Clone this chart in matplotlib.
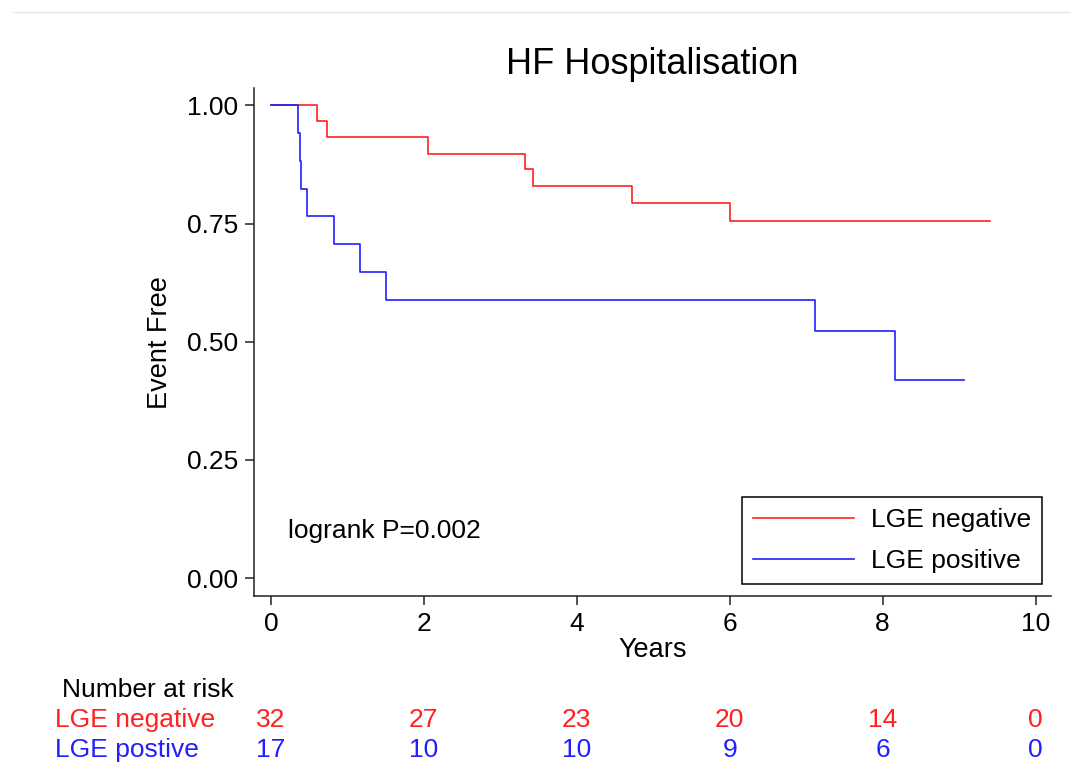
import matplotlib.pyplot as plt
from matplotlib.lines import Line2D

plt.rcParams['font.family'] = ['Liberation Sans', 'DejaVu Sans']

# Kaplan-Meier steps
neg_t = [0, 0.60, 0.74, 2.06, 3.32, 3.43, 4.72, 6.01, 9.40]
neg_s = [1.0, 0.966, 0.934, 0.898, 0.865, 0.829, 0.793, 0.755, 0.755]
pos_t = [0, 0.36, 0.38, 0.39, 0.47, 0.82, 1.16, 1.51, 7.11, 8.16, 9.06]
pos_s = [1.0, 0.941, 0.882, 0.824, 0.765, 0.706, 0.647, 0.588, 0.523, 0.418, 0.418]

risk_years = [0, 2, 4, 6, 8, 10]
risk_neg = [32, 27, 23, 20, 14, 0]
risk_pos = [17, 10, 10, 9, 6, 0]

fig = plt.figure(figsize=(10.71, 7.81), dpi=100)
ax = fig.add_axes([0.2372, 0.2369, 0.744, 0.650])

ax.step(neg_t, neg_s, where='post', color='#ff2020', lw=1.2, label='LGE negative')
ax.step(pos_t, pos_s, where='post', color='#2020ff', lw=1.2, label='LGE positive')

ax.set_xlim(-0.22, 10.2)
ax.set_ylim(-0.038, 1.036)
ax.set_xticks(risk_years)
ax.set_yticks([0, 0.25, 0.5, 0.75, 1.0])
ax.set_yticklabels(['%.2f' % v for v in [0, 0.25, 0.5, 0.75, 1.0]])
for s in ['top', 'right']:
    ax.spines[s].set_visible(False)
for s in ['left', 'bottom']:
    ax.spines[s].set_linewidth(1.1)
    ax.spines[s].set_color('#222222')
ax.tick_params(length=6.5, width=1.1, labelsize=19, pad=5, color='#222222')

ax.set_title('HF Hospitalisation', fontsize=26, pad=10)
ax.set_ylabel('Event Free', fontsize=19.5, labelpad=10)
ax.set_xlabel('Years', fontsize=19.5, labelpad=1)

ax.text(0.22, 0.10, 'logrank P=0.002', fontsize=19, va='center')

leg = ax.legend(loc='lower right', bbox_to_anchor=(0.989, 0.0236), borderaxespad=0,
                fontsize=19, frameon=True, fancybox=False, edgecolor='black',
                framealpha=1, handlelength=3.8, handletextpad=0.65,
                borderpad=0.42, labelspacing=0.65)
leg.get_frame().set_linewidth(1.1)

# number at risk table
tr = ax.get_xaxis_transform()
fig.text(62 / 1071, 1 - 690 / 781, 'Number at risk', fontsize=19, va='center', ha='left')
fig.text(55 / 1071, 1 - 720 / 781, 'LGE negative', fontsize=19, va='center', ha='left', color='#ff2020')
fig.text(55 / 1071, 1 - 750 / 781, 'LGE postive', fontsize=19, va='center', ha='left', color='#2020ff')
y_neg = (1 - 720 / 781 - 0.2369) / 0.650
y_pos = (1 - 750 / 781 - 0.2369) / 0.650
for yr, n1, n2 in zip(risk_years, risk_neg, risk_pos):
    ax.text(yr, y_neg, str(n1), transform=tr, fontsize=19, ha='center', va='center',
            color='#ff2020', clip_on=False)
    ax.text(yr, y_pos, str(n2), transform=tr, fontsize=19, ha='center', va='center',
            color='#2020ff', clip_on=False)

# faint screenshot line at the top
fig.add_artist(Line2D([0.012, 1.0], [1 - 12 / 781, 1 - 12 / 781], color='#e3e6ea', lw=1))

fig.savefig('out.png', dpi=100)
